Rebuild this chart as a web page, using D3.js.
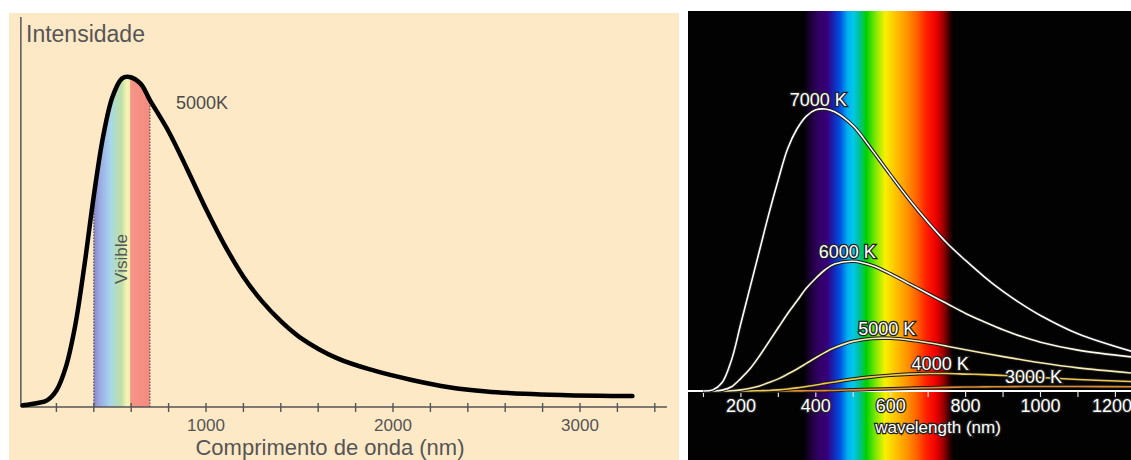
<!DOCTYPE html>
<html>
<head>
<meta charset="utf-8">
<script src="https://cdn.jsdelivr.net/npm/d3@7"></script>
<style>
  html, body { margin: 0; padding: 0; background: #fff; }
  svg { display: block; font-family: "Liberation Sans", Arial, sans-serif; }
</style>
</head>
<body>
<div id="chart"></div>
<script>
// ---- left chart: one 5000 K curve (wavelength nm -> relative intensity)
const leftNm = [20, 100, 150, 200, 250, 300, 350, 400, 450, 500, 550, 590, 650, 700, 800, 900, 1000, 1100, 1200, 1300, 1400, 1500, 1700, 1900, 2100, 2300, 2500, 2700, 2900, 3100, 3280];
const leftIntensity = [0.005, 0.012, 0.02, 0.05, 0.12, 0.245, 0.43, 0.64, 0.82, 0.94, 0.995, 1.0, 0.98, 0.93, 0.835, 0.72, 0.6, 0.49, 0.395, 0.32, 0.26, 0.212, 0.148, 0.11, 0.082, 0.06, 0.047, 0.04, 0.036, 0.034, 0.033];
const leftTicks = d3.range(200, 3401, 200);
const leftTickLabels = [1000, 2000, 3000];
const visibleRange = [400, 700];
const visibleStops = [
  [400, "#8c86c4"], [430, "#9aa8e0"], [460, "#a0c0ec"], [490, "#a8d8ec"], [520, "#b4dcc0"],
  [550, "#c0e0a8"], [575, "#f4f4b4"], [592, "#f8eeb0"], [597, "#f59488"], [700, "#f48a80"]
];

// ---- right chart: blackbody curves, same wavelength grid for all
const rightNm = [100, 125, 150, 175, 200, 225, 250, 275, 300, 325, 350, 375, 400, 425, 450, 500, 550, 600, 650, 700, 750, 800, 850, 900, 950, 1000, 1100, 1250];
const temps = ["7000 K", "6000 K", "5000 K", "4000 K", "3000 K"];
const i7000 = [0, 0.4, 3, 11, 24, 37, 50, 63, 75, 86, 93, 97.5, 99.7, 100, 99, 94, 85.5, 76.5, 67.8, 59.8, 52.5, 46.3, 40.5, 35.3, 30.8, 26.8, 20.3, 13.8];
const i6000 = [0, 0, 0.3, 1.5, 4.5, 8, 12.5, 17.5, 22.5, 27.5, 32, 36.5, 40, 43, 45, 46, 44.5, 41.5, 38, 34.5, 31, 27.5, 24.5, 21.7, 19.3, 17.3, 14.5, 12];
const i5000 = [0, 0, 0, 0.1, 0.4, 1, 1.8, 3, 4.3, 6, 7.8, 9.8, 11.8, 13.7, 15.3, 17.6, 18.6, 18.7, 18.1, 17.1, 15.9, 14.6, 13.4, 12.2, 11.1, 10, 8.2, 6.3];
const i4000 = [0, 0, 0, 0, 0, 0, 0.1, 0.2, 0.4, 0.7, 1.1, 1.6, 2.1, 2.7, 3.2, 4.2, 5, 5.6, 6, 6.2, 6.2, 6, 5.8, 5.5, 5.2, 4.8, 4.1, 3.3];
const i3000 = [0, 0, 0, 0, 0, 0, 0, 0, 0.02, 0.03, 0.05, 0.07, 0.1, 0.14, 0.2, 0.4, 0.6, 0.8, 1.0, 1.15, 1.3, 1.4, 1.47, 1.53, 1.57, 1.6, 1.58, 1.5];
const rightSeries = [i7000, i6000, i5000, i4000, i3000];
const rightTicks = d3.range(100, 1201, 100);
const rightTickLabels = [200, 400, 600, 800, 1000, 1200];
const spectrumStops = [
  [365, "#000000"], [385, "#1a0035"], [405, "#300060"], [430, "#38007a"], [445, "#1a20b0"],
  [465, "#0050e0"], [485, "#00b0f0"], [500, "#00c8e8"], [515, "#00c0a0"], [535, "#00d000"],
  [560, "#80e800"], [585, "#f8f000"], [615, "#ffc000"], [645, "#ff9000"], [670, "#ff6000"],
  [695, "#ff2000"], [720, "#f00000"], [740, "#a00000"], [758, "#300000"], [768, "#000000"]
];

// styling for the right curves
const lineColors = ["#ffffff", "#fffbea", "#f6eab0", "#eec850", "#e08a30"];
const labelDx = [-7, -6, -4, 12, -7];

const W = 1131, H = 460;
const svg = d3.select("#chart").append("svg").attr("width", W).attr("height", H);
const defs = svg.append("defs");

// ================= LEFT =================
const L = { x0: 9, y0: 13, x1: 679, y1: 460 };
svg.append("rect").attr("x", L.x0).attr("y", L.y0)
  .attr("width", L.x1 - L.x0).attr("height", L.y1 - L.y0).attr("fill", "#fee9c7");

const xL = d3.scaleLinear().domain([0, 3500]).range([19, 673.5]);
const yL = d3.scaleLinear().domain([0, 1]).range([407, 77]);
const leftData = leftNm.map((d, i) => ({ nm: d, v: leftIntensity[i] }));

const smooth = d3.curveCatmullRom.alpha(0.5);
const lineL = d3.line().x(d => xL(d.nm)).y(d => yL(d.v)).curve(smooth);
const areaL = d3.area().x(d => xL(d.nm)).y0(yL(0)).y1(d => yL(d.v)).curve(smooth);

// visible band gradient, clipped under the curve
const gL = defs.append("linearGradient").attr("id", "visGrad")
  .attr("gradientUnits", "userSpaceOnUse")
  .attr("x1", xL(visibleRange[0])).attr("x2", xL(visibleRange[1])).attr("y1", 0).attr("y2", 0);
visibleStops.forEach(s => gL.append("stop")
  .attr("offset", (s[0] - visibleRange[0]) / (visibleRange[1] - visibleRange[0]))
  .attr("stop-color", s[1]));

defs.append("clipPath").attr("id", "underCurve").append("path").attr("d", areaL(leftData));
svg.append("rect")
  .attr("clip-path", "url(#underCurve)")
  .attr("x", xL(visibleRange[0])).attr("y", yL(1.05))
  .attr("width", xL(visibleRange[1]) - xL(visibleRange[0]))
  .attr("height", yL(0) - yL(1.05))
  .attr("fill", "url(#visGrad)");

// dotted edges of the band
const interp = nm => {
  const i = d3.bisectLeft(leftNm, nm);
  const t = (nm - leftNm[i - 1]) / (leftNm[i] - leftNm[i - 1]);
  return leftIntensity[i - 1] + t * (leftIntensity[i] - leftIntensity[i - 1]);
};
visibleRange.forEach(nm => {
  svg.append("line")
    .attr("x1", xL(nm)).attr("x2", xL(nm))
    .attr("y1", yL(0)).attr("y2", yL(interp(nm)))
    .attr("stroke", "#555").attr("stroke-width", 1.2).attr("stroke-dasharray", "1.5,1.5");
});

svg.append("text")
  .attr("transform", "translate(127,259) rotate(-90)")
  .attr("text-anchor", "middle").attr("font-size", 17).attr("fill", "#555")
  .text("Visible");

// axes
svg.append("line").attr("x1", xL(10)).attr("x2", xL(10)).attr("y1", 17).attr("y2", yL(0))
  .attr("stroke", "#555").attr("stroke-width", 1.5);
svg.append("line").attr("x1", xL(10)).attr("x2", xL(3465)).attr("y1", yL(0)).attr("y2", yL(0))
  .attr("stroke", "#555").attr("stroke-width", 1.5);
svg.selectAll(".ltick").data(leftTicks).enter().append("line")
  .attr("x1", d => xL(d)).attr("x2", d => xL(d))
  .attr("y1", yL(0) - 4).attr("y2", yL(0) + 5)
  .attr("stroke", "#555").attr("stroke-width", 1.4);
svg.selectAll(".llab").data(leftTickLabels).enter().append("text")
  .attr("x", d => xL(d)).attr("y", 431)
  .attr("text-anchor", "middle").attr("font-size", 17).attr("fill", "#555")
  .text(d => d);

svg.append("path").datum(leftData).attr("d", lineL)
  .attr("fill", "none").attr("stroke", "#000").attr("stroke-width", 4.5)
  .attr("stroke-linecap", "round").attr("stroke-linejoin", "round");

svg.append("text").attr("x", 26).attr("y", 42).attr("font-size", 23).attr("fill", "#555")
  .text("Intensidade");
svg.append("text").attr("x", 176).attr("y", 109).attr("font-size", 18).attr("fill", "#4a4a4a")
  .text("5000K");
svg.append("text").attr("x", 330).attr("y", 455).attr("text-anchor", "middle")
  .attr("font-size", 22).attr("fill", "#555")
  .text("Comprimento de onda (nm)");

// ================= RIGHT =================
const R = { x0: 688, y0: 11, x1: 1131, y1: 460 };
defs.append("clipPath").attr("id", "rightClip").append("rect")
  .attr("x", R.x0).attr("y", R.y0).attr("width", R.x1 - R.x0).attr("height", R.y1 - R.y0);
const gR = svg.append("g").attr("clip-path", "url(#rightClip)");
gR.append("rect").attr("x", R.x0).attr("y", R.y0)
  .attr("width", R.x1 - R.x0).attr("height", R.y1 - R.y0).attr("fill", "#020202");

const xR = d3.scaleLinear().domain([0, 1000]).range([666, 1040.5]);
const yR = d3.scaleLinear().domain([0, 100]).range([391, 109]);

const sp0 = spectrumStops[0][0], sp1 = spectrumStops[spectrumStops.length - 1][0];
const gS = defs.append("linearGradient").attr("id", "specGrad")
  .attr("gradientUnits", "userSpaceOnUse")
  .attr("x1", xR(sp0)).attr("x2", xR(sp1)).attr("y1", 0).attr("y2", 0);
spectrumStops.forEach(s => gS.append("stop")
  .attr("offset", (s[0] - sp0) / (sp1 - sp0)).attr("stop-color", s[1]));
gR.append("rect").attr("x", xR(sp0)).attr("y", R.y0)
  .attr("width", xR(sp1) - xR(sp0)).attr("height", R.y1 - R.y0)
  .attr("fill", "url(#specGrad)");

// axis
gR.append("line").attr("x1", R.x0).attr("x2", R.x1).attr("y1", yR(0)).attr("y2", yR(0))
  .attr("stroke", "#fff").attr("stroke-width", 2);
gR.selectAll(".rtick").data(rightTicks).enter().append("line")
  .attr("x1", d => xR(d)).attr("x2", d => xR(d))
  .attr("y1", yR(0)).attr("y2", yR(0) + 6)
  .attr("stroke", "#ddd").attr("stroke-width", 1.2);

const lineR = d3.line().x(d => xR(d.nm)).y(d => yR(d.v)).curve(smooth);
rightSeries.slice().reverse().forEach((vals, ri) => {
  const i = rightSeries.length - 1 - ri;
  const data = rightNm.map((nm, k) => ({ nm, v: vals[k] }));
  gR.append("path").datum(data).attr("d", lineR)
    .attr("fill", "none").attr("stroke", "#1a1a1a").attr("stroke-width", 3.6);
  gR.append("path").datum(data).attr("d", lineR)
    .attr("fill", "none").attr("stroke", lineColors[i]).attr("stroke-width", 1.6);
});

// curve labels at each peak
rightSeries.forEach((vals, i) => {
  const k = d3.maxIndex(vals);
  gR.append("text")
    .attr("x", xR(rightNm[k]) + labelDx[i]).attr("y", yR(vals[k]) - 3.5)
    .attr("text-anchor", "middle").attr("font-size", 18)
    .attr("fill", "#fff").attr("stroke", "#222").attr("stroke-width", 2.5)
    .attr("paint-order", "stroke")
    .text(temps[i]);
});

// last label sits at the panel edge: keep it inside
svg.selectAll(".rlab").data(rightTickLabels).enter().append("text")
  .attr("x", d => Math.min(xR(d), R.x1 - 1 - 18))
  .attr("y", 411.5)
  .attr("text-anchor", "middle").attr("font-size", 18)
  .attr("fill", "#fff").attr("stroke", "#222").attr("stroke-width", 2.5)
  .attr("paint-order", "stroke")
  .text(d => d);
gR.append("text").attr("x", 938).attr("y", 433)
  .attr("text-anchor", "middle").attr("font-size", 17)
  .attr("fill", "#fff").attr("stroke", "#222").attr("stroke-width", 2.5)
  .attr("paint-order", "stroke")
  .text("wavelength (nm)");
</script>
</body>
</html>
